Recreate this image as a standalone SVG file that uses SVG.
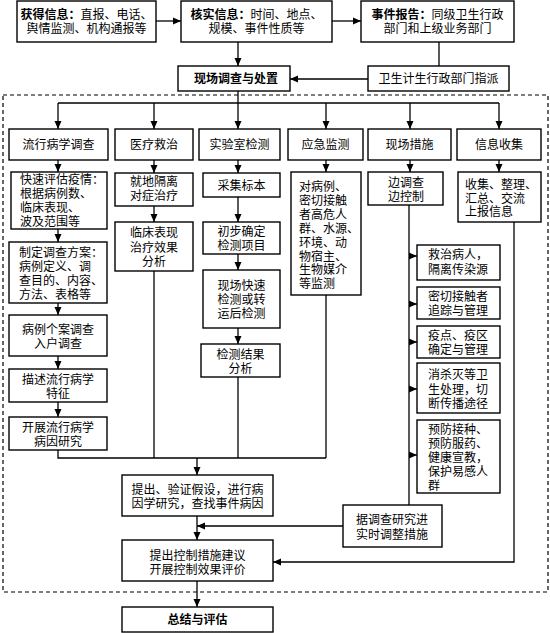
<svg xmlns="http://www.w3.org/2000/svg" width="550" height="633" viewBox="0 0 550 633">
<style>
.b{fill:#fff;stroke:#000;stroke-width:1.4}
.c{fill:none;stroke:#000;stroke-width:1.3}
text{font-family:"Noto Sans CJK SC","Liberation Serif",sans-serif;font-size:12px;fill:#000}
.m{text-anchor:middle}
.bd{font-weight:bold}
.dash{fill:none;stroke:#000;stroke-width:1.2;stroke-dasharray:4,3}
</style>
<defs>
<marker id="ar" markerWidth="8" markerHeight="8" refX="8" refY="4" orient="auto" markerUnits="userSpaceOnUse">
<path d="M0,0.5 L8,4 L0,7.5 z" fill="#000"/>
</marker>
</defs>
<rect width="550" height="633" fill="#fff"/>
<rect class="dash" x="3" y="95" width="545" height="497"/>
<g id="connectors" class="c">
<path d="M156,21 H181" marker-end="url(#ar)"/>
<path d="M332,21 H361" marker-end="url(#ar)"/>
<path d="M238,42 V66" marker-end="url(#ar)"/>
<path d="M439,42 V66"/>
<path d="M368,79 H290" marker-end="url(#ar)"/>
<path d="M238,91 V129" marker-end="url(#ar)"/>
<path d="M58,103 H499"/>
<path d="M58,103 V129" marker-end="url(#ar)"/>
<path d="M154,103 V129" marker-end="url(#ar)"/>
<path d="M326,103 V129" marker-end="url(#ar)"/>
<path d="M410,103 V129" marker-end="url(#ar)"/>
<path d="M499,103 V129" marker-end="url(#ar)"/>
<path d="M58,160 V172" marker-end="url(#ar)"/>
<path d="M58,229 V242" marker-end="url(#ar)"/>
<path d="M58,303 V315" marker-end="url(#ar)"/>
<path d="M58,356 V369" marker-end="url(#ar)"/>
<path d="M58,402 V417" marker-end="url(#ar)"/>
<path d="M58,450 V458 H326"/>
<path d="M154,160 V173" marker-end="url(#ar)"/>
<path d="M154,206 V222" marker-end="url(#ar)"/>
<path d="M154,271 V458"/>
<path d="M238,160 V173" marker-end="url(#ar)"/>
<path d="M238,197 V222" marker-end="url(#ar)"/>
<path d="M238,254 V270" marker-end="url(#ar)"/>
<path d="M238,328 V344" marker-end="url(#ar)"/>
<path d="M238,377 V458"/>
<path d="M326,160 V172" marker-end="url(#ar)"/>
<path d="M326,295 V458"/>
<path d="M410,160 V172" marker-end="url(#ar)"/>
<path d="M409,205 V505"/>
<path d="M409,256 H417" marker-end="url(#ar)"/>
<path d="M409,304 H417" marker-end="url(#ar)"/>
<path d="M409,342 H417" marker-end="url(#ar)"/>
<path d="M409,389 H417" marker-end="url(#ar)"/>
<path d="M409,455 H417" marker-end="url(#ar)"/>
<path d="M499,160 V172" marker-end="url(#ar)"/>
<path d="M514,222 V562 H273" marker-end="url(#ar)"/>
<path d="M197,458 V475" marker-end="url(#ar)"/>
<path d="M343,526 H197" marker-end="url(#ar)"/>
<path d="M197,516 V540" marker-end="url(#ar)"/>
<path d="M197,581 V607" marker-end="url(#ar)"/>
</g>
<g id="n1"><rect class="b" x="17" y="1" width="139" height="41"/>
<text class="m" x="86.5" y="18.5"><tspan class="bd">获得信息：</tspan>直报、电话、<tspan x="86.5" dy="14.5">舆情监测、机构通报等</tspan></text></g>
<g id="n2"><rect class="b" x="181" y="1" width="151" height="41"/>
<text class="m" x="256.5" y="18.5"><tspan class="bd">核实信息：</tspan>时间、地点、<tspan x="256.5" dy="14.5">规模、事件性质等</tspan></text></g>
<g id="n3"><rect class="b" x="361" y="1" width="153" height="41"/>
<text class="m" x="437.5" y="18.5"><tspan class="bd">事件报告：</tspan>同级卫生行政<tspan x="437.5" dy="14.5">部门和上级业务部门</tspan></text></g>
<g id="n4"><rect class="b" x="178" y="66" width="112" height="25"/>
<text class="m bd" x="236" y="83">现场调查与处置</text></g>
<g id="n5"><rect class="b" x="368" y="66" width="141" height="25"/>
<text class="m" x="438.5" y="83">卫生计生行政部门指派</text></g>
<g id="n6"><rect class="b" x="9" y="129" width="99" height="31"/>
<text class="m" x="58.5" y="149">流行病学调查</text></g>
<g id="n7"><rect class="b" x="115" y="129" width="78" height="31"/>
<text class="m" x="154" y="149">医疗救治</text></g>
<g id="n8"><rect class="b" x="199" y="129" width="81" height="31"/>
<text class="m" x="239.5" y="149">实验室检测</text></g>
<g id="n9"><rect class="b" x="288" y="129" width="75" height="31"/>
<text class="m" x="325.5" y="149">应急监测</text></g>
<g id="n10"><rect class="b" x="368" y="129" width="83" height="31"/>
<text class="m" x="409.5" y="149">现场措施</text></g>
<g id="n11"><rect class="b" x="457" y="129" width="84" height="31"/>
<text class="m" x="499" y="149">信息收集</text></g>
<g id="n12"><rect class="b" x="11" y="172" width="96" height="57"/>
<text x="20" y="184">快速评估疫情：<tspan x="20" dy="14">根据病例数、</tspan><tspan x="20" dy="14">临床表现、</tspan><tspan x="20" dy="14">波及范围等</tspan></text></g>
<g id="n13"><rect class="b" x="9" y="242" width="98" height="61"/>
<text x="19" y="257">制定调查方案：<tspan x="19" dy="14">病例定义、调</tspan><tspan x="19" dy="14">查目的、内容、</tspan><tspan x="19" dy="14">方法、表格等</tspan></text></g>
<g id="n14"><rect class="b" x="9" y="315" width="98" height="41"/>
<text class="m" x="58" y="334">病例个案调查<tspan x="58" dy="14">入户调查</tspan></text></g>
<g id="n15"><rect class="b" x="9" y="369" width="98" height="33"/>
<text class="m" x="58" y="383.5">描述流行病学<tspan x="58" dy="14">特征</tspan></text></g>
<g id="n16"><rect class="b" x="9" y="417" width="98" height="33"/>
<text class="m" x="58" y="431.5">开展流行病学<tspan x="58" dy="14">病因研究</tspan></text></g>
<g id="n17"><rect class="b" x="115" y="173" width="78" height="33"/>
<text class="m" x="154" y="185.5">就地隔离<tspan x="154" dy="14.5">对症治疗</tspan></text></g>
<g id="n18"><rect class="b" x="115" y="222" width="78" height="49"/>
<text class="m" x="154" y="237">临床表现<tspan x="154" dy="14.5">治疗效果</tspan><tspan x="154" dy="14.5">分析</tspan></text></g>
<g id="n19"><rect class="b" x="203" y="173" width="77" height="24"/>
<text class="m" x="241.5" y="189.5">采集标本</text></g>
<g id="n20"><rect class="b" x="203" y="222" width="77" height="32"/>
<text class="m" x="241.5" y="236">初步确定<tspan x="241.5" dy="14">检测项目</tspan></text></g>
<g id="n21"><rect class="b" x="203" y="270" width="77" height="58"/>
<text class="m" x="241.5" y="290">现场快速<tspan x="241.5" dy="14">检测或转</tspan><tspan x="241.5" dy="14">运后检测</tspan></text></g>
<g id="n22"><rect class="b" x="201" y="344" width="79" height="33"/>
<text class="m" x="240.5" y="359">检测结果<tspan x="240.5" dy="14">分析</tspan></text></g>
<g id="n23"><rect class="b" x="291" y="172" width="70" height="123"/>
<text x="299" y="191">对病例、<tspan x="299" dy="13.9">密切接触</tspan><tspan x="299" dy="13.9">者高危人</tspan><tspan x="299" dy="13.9">群、水源、</tspan><tspan x="299" dy="13.9">环境、动</tspan><tspan x="299" dy="13.9">物宿主、</tspan><tspan x="299" dy="13.9">生物媒介</tspan><tspan x="299" dy="13.9">等监测</tspan></text></g>
<g id="n24"><rect class="b" x="368" y="172" width="75" height="33"/>
<text class="m" x="406" y="187">边调查<tspan x="406" dy="14">边控制</tspan></text></g>
<g id="n25"><rect class="b" x="417" y="245" width="83" height="35"/>
<text x="428" y="258.5">救治病人，<tspan x="428" dy="15">隔离传染源</tspan></text></g>
<g id="n26"><rect class="b" x="417" y="287" width="83" height="32"/>
<text x="428" y="301">密切接触者<tspan x="428" dy="14">追踪与管理</tspan></text></g>
<g id="n27"><rect class="b" x="417" y="326" width="83" height="32"/>
<text x="428" y="340">疫点、疫区<tspan x="428" dy="14">确定与管理</tspan></text></g>
<g id="n28"><rect class="b" x="417" y="363" width="83" height="50"/>
<text x="428" y="379">消杀灭等卫<tspan x="428" dy="14.5">生处理，切</tspan><tspan x="428" dy="14.5">断传播途径</tspan></text></g>
<g id="n29"><rect class="b" x="417" y="420" width="83" height="73"/>
<text x="428" y="434">预防接种、<tspan x="428" dy="14">预防服药、</tspan><tspan x="428" dy="14">健康宣教，</tspan><tspan x="428" dy="14">保护易感人</tspan><tspan x="428" dy="14">群</tspan></text></g>
<g id="n30"><rect class="b" x="458" y="172" width="83" height="50"/>
<text x="465" y="189">收集、整理、<tspan x="465" dy="13.5">汇总、交流</tspan><tspan x="465" dy="13.5">上报信息</tspan></text></g>
<g id="n31"><rect class="b" x="122" y="475" width="151" height="41"/>
<text class="m" x="197.5" y="493.5">提出、验证假设，进行病<tspan x="197.5" dy="14.5">因学研究，查找事件病因</tspan></text></g>
<g id="n32"><rect class="b" x="343" y="505" width="99" height="42"/>
<text x="356" y="524">据调查研究进<tspan x="356" dy="14.5">实时调整措施</tspan></text></g>
<g id="n33"><rect class="b" x="122" y="540" width="151" height="41"/>
<text class="m" x="197.5" y="559.5">提出控制措施建议<tspan x="197.5" dy="14.5">开展控制效果评价</tspan></text></g>
<g id="n34"><rect class="b" x="122" y="607" width="151" height="25"/>
<text class="m bd" x="197.5" y="624">总结与评估</text></g>
</svg>
